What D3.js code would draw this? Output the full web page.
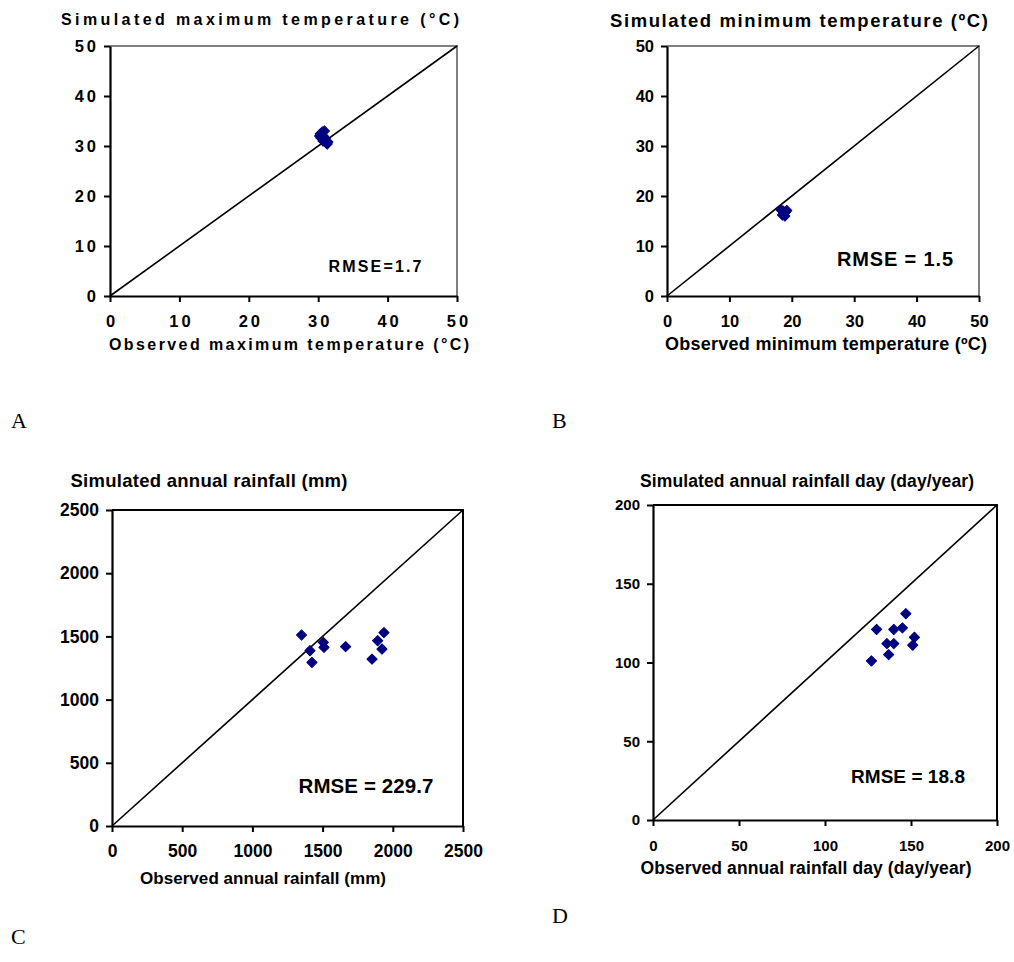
<!DOCTYPE html>
<html>
<head>
<meta charset="utf-8">
<script src="https://cdn.jsdelivr.net/npm/d3@7"></script>
<style>
  body { margin: 0; background: #fff; }
  svg text { font-family: "Liberation Sans", Arial, sans-serif; font-weight: bold; fill: #000; }
  .panel-letter { font-family: "Liberation Serif", "Times New Roman", serif !important; font-weight: normal !important; }
</style>
</head>
<body>
<script>
const width = 1014;
const height = 962;

// panel A: max temperature (observed, simulated)
const maxTempObs = [30.2, 30.6, 30.9, 30.4, 31.0, 30.7, 31.3, 30.3, 30.8, 31.4];
const maxTempSim = [32.0, 32.8, 33.0, 31.6, 31.5, 31.0, 30.4, 32.4, 31.9, 30.8];
const tempTicks = [0, 10, 20, 30, 40, 50];

// panel B: min temperature
const minTempObs = [18.3, 18.6, 19.0, 18.5, 18.9, 18.7, 19.2];
const minTempSim = [17.2, 17.0, 16.8, 16.2, 16.0, 16.5, 17.1];

// panel C: annual rainfall (mm)
const rainObs = [1350, 1505, 1510, 1410, 1424, 1664, 1937, 1892, 1923, 1852];
const rainSim = [1511, 1453, 1413, 1387, 1294, 1419, 1530, 1466, 1400, 1320];
const rainTicks = [0, 500, 1000, 1500, 2000, 2500];

// panel D: annual rainfall days
const dayObs = [127, 137, 136, 140, 151, 130, 140, 145, 147, 152];
const daySim = [101, 105, 112, 112, 111, 121, 121, 122, 131, 116];
const dayTicks = [0, 50, 100, 150, 200];

const svg = d3.select('body')
  .append('svg')
  .attr('width', width)
  .attr('height', height);

function label(g, txt, x, y, size, len) {
  const t = g.append('text')
    .text(txt)
    .attr('x', x).attr('y', y)
    .attr('text-anchor', 'middle')
    .style('font-size', size + 'px');
  if (len) t.attr('textLength', len).attr('lengthAdjust', 'spacing');
  return t;
}

function drawPanel(p) {
  const x = d3.scaleLinear().domain([0, p.max]).range([p.left, p.right]);
  const y = d3.scaleLinear().domain([0, p.max]).range([p.bottom, p.top]);
  const g = svg.append('g');

  // frame top + right
  g.append('path')
    .attr('d', `M${p.left},${p.top}H${p.right}V${p.bottom}`)
    .attr('fill', 'none')
    .attr('stroke', p.frame)
    .attr('stroke-width', 2);

  // 1:1 line
  g.append('line')
    .attr('x1', x(0)).attr('y1', y(0))
    .attr('x2', x(p.max)).attr('y2', y(p.max))
    .attr('stroke', '#000')
    .attr('stroke-width', 1.6);

  const xAxis = g.append('g')
    .attr('transform', `translate(0,${p.bottom})`)
    .call(d3.axisBottom(x).tickValues(p.ticks).tickFormat(d3.format('d'))
      .tickSize(6).tickPadding(p.xPad).tickSizeOuter(0));
  const yAxis = g.append('g')
    .attr('transform', `translate(${p.left},0)`)
    .call(d3.axisLeft(y).tickValues(p.ticks).tickFormat(d3.format('d'))
      .tickSize(6).tickPadding(p.yPad).tickSizeOuter(0));

  [xAxis, yAxis].forEach(a => {
    a.select('.domain').attr('stroke', '#000').attr('stroke-width', 2.2);
    a.selectAll('.tick line').attr('stroke', '#000').attr('stroke-width', 2);
    a.selectAll('.tick text')
      .style('font-size', p.tickFont + 'px')
      .style('letter-spacing', p.spacing + 'px')
      .style('font-family', '"Liberation Sans", Arial, sans-serif')
      .style('font-weight', 'bold')
      .attr('fill', '#000');
  });
  // letter-spacing trails the last glyph; nudge x labels so they stay centred
  if (p.spacing) xAxis.selectAll('.tick text').attr('dx', p.spacing / 2);

  g.selectAll('.pt')
    .data(p.obs.map((d, i) => [d, p.sim[i]]))
    .enter()
    .append('path')
    .attr('class', 'pt')
    .attr('d', d3.symbol().type(d3.symbolSquare).size(52))
    .attr('transform', d => `translate(${x(d[0])},${y(d[1])}) rotate(45)`)
    .attr('fill', '#000080')
    .attr('stroke', '#000080')
    .attr('stroke-width', 1)
    .attr('stroke-linejoin', 'round');

  label(g, p.yTitle, p.yTitleX, p.yTitleY, p.yTitleFont, p.yTitleLen);
  label(g, p.xTitle, p.xTitleX, p.xTitleY, p.xTitleFont, p.xTitleLen);
  label(g, p.rmse, p.rmseX, p.rmseY, p.rmseFont, p.rmseLen);

  g.append('text')
    .attr('class', 'panel-letter')
    .text(p.letter)
    .attr('x', p.letterX).attr('y', p.letterY)
    .style('font-size', '22px');
}

drawPanel({
  obs: maxTempObs, sim: maxTempSim, ticks: tempTicks, max: 50,
  left: 110, right: 457, top: 46, bottom: 296,
  frame: '#808080', tickFont: 16.5, spacing: 3, xPad: 13, yPad: 5,
  yTitle: 'Simulated maximum temperature (°C)', yTitleX: 260, yTitleY: 25, yTitleFont: 16, yTitleLen: 398,
  xTitle: 'Observed maximum temperature (°C)', xTitleX: 289, xTitleY: 350, xTitleFont: 16, xTitleLen: 360,
  rmse: 'RMSE=1.7', rmseX: 375, rmseY: 272, rmseFont: 16, rmseLen: 93,
  letter: 'A', letterX: 11, letterY: 428
});

drawPanel({
  obs: minTempObs, sim: minTempSim, ticks: tempTicks, max: 50,
  left: 667, right: 979, top: 46, bottom: 296,
  frame: '#808080', tickFont: 16.5, spacing: 0, xPad: 13, yPad: 7,
  yTitle: 'Simulated minimum temperature (ºC)', yTitleX: 799, yTitleY: 27, yTitleFont: 18.5, yTitleLen: 378,
  xTitle: 'Observed minimum temperature (ºC)', xTitleX: 826, xTitleY: 350, xTitleFont: 18, xTitleLen: 322,
  rmse: 'RMSE = 1.5', rmseX: 895, rmseY: 266, rmseFont: 20, rmseLen: 116,
  letter: 'B', letterX: 552, letterY: 428
});

drawPanel({
  obs: rainObs, sim: rainSim, ticks: rainTicks, max: 2500,
  left: 112, right: 463, top: 510, bottom: 826,
  frame: '#000', tickFont: 17.5, spacing: 0, xPad: 13, yPad: 7,
  yTitle: 'Simulated annual rainfall (mm)', yTitleX: 209, yTitleY: 487, yTitleFont: 18.5, yTitleLen: 277,
  xTitle: 'Observed annual rainfall (mm)', xTitleX: 263, xTitleY: 884, xTitleFont: 17, xTitleLen: 246,
  rmse: 'RMSE = 229.7', rmseX: 366, rmseY: 793, rmseFont: 20.5, rmseLen: 135,
  letter: 'C', letterX: 11, letterY: 944
});

drawPanel({
  obs: dayObs, sim: daySim, ticks: dayTicks, max: 200,
  left: 653, right: 997, top: 505, bottom: 820,
  frame: '#000', tickFont: 15, spacing: 0, xPad: 14, yPad: 7,
  yTitle: 'Simulated annual rainfall day (day/year)', yTitleX: 807, yTitleY: 487, yTitleFont: 17.5, yTitleLen: 334,
  xTitle: 'Observed annual rainfall day (day/year)', xTitleX: 806, xTitleY: 874, xTitleFont: 17.5, xTitleLen: 331,
  rmse: 'RMSE = 18.8', rmseX: 908, rmseY: 783, rmseFont: 19, rmseLen: 114,
  letter: 'D', letterX: 552, letterY: 923
});
</script>
</body>
</html>
